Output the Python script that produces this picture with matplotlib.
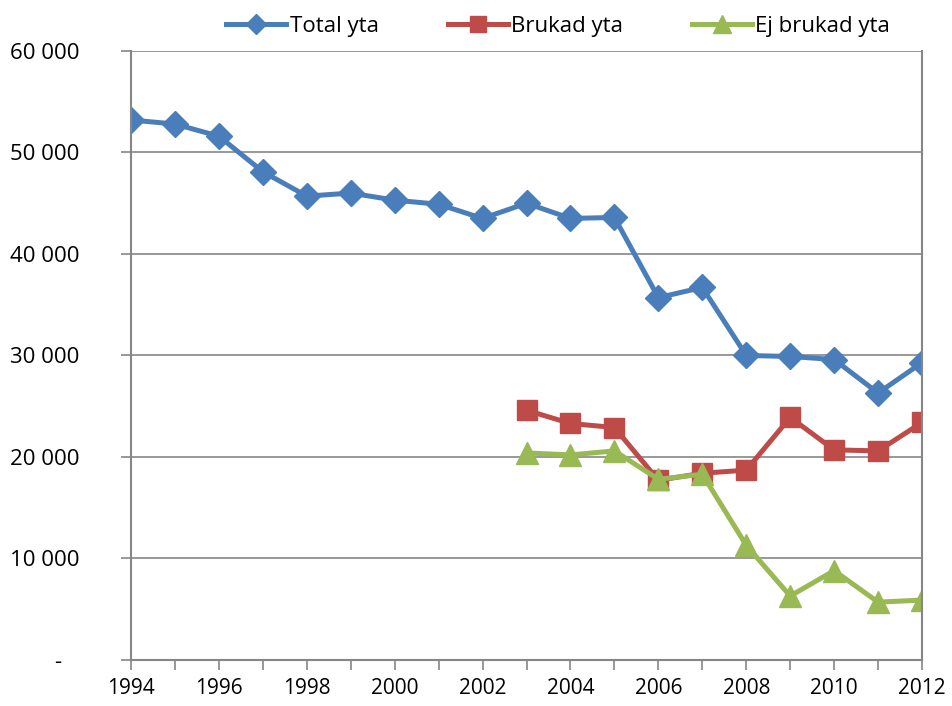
import matplotlib
matplotlib.use("Agg")
import matplotlib.pyplot as plt
from matplotlib.ticker import FuncFormatter

plt.rcParams['font.family'] = ['Open Sans', 'DejaVu Sans']

years = list(range(1994, 2013))
total_yta = [53200, 52800, 51600, 48100, 45700, 46000, 45300, 44900, 43500,
             45000, 43500, 43600, 35700, 36700, 30000, 29900, 29600, 26300, 29300]
years_sub = list(range(2003, 2013))
brukad_yta = [24600, 23300, 22900, 17700, 18400, 18700, 23900, 20700, 20600, 23400]
ej_brukad_yta = [20400, 20200, 20600, 17800, 18300, 11300, 6300, 8800, 5700, 5900]

fig = plt.figure(figsize=(9.53, 7.06), dpi=100)
ax = fig.add_axes([0.1375, 0.0652, 0.83, 0.8626])

ax.plot(years, total_yta, color='#4A7EBB', lw=3.6, marker='D', ms=13,
        label='Total yta')
ax.plot(years_sub, brukad_yta, color='#BE4B48', lw=3.6, marker='s', ms=15,
        label='Brukad yta')
ax.plot(years_sub, ej_brukad_yta, color='#98B954', lw=3.6, marker='^', ms=16,
        label='Ej brukad yta')

ax.set_xlim(1994, 2012)
ax.set_ylim(0, 60000)
ax.set_yticks(range(0, 60001, 10000))
ax.set_xticks(years)
ax.set_xticklabels([str(y) if y % 2 == 0 else '' for y in years])


def fmt(v, pos):
    if v == 0:
        return '-   '
    return f'{int(v):,}'.replace(',', ' ')


ax.yaxis.set_major_formatter(FuncFormatter(fmt))
ax.grid(axis='y', color='#868686', lw=1.2)
ax.set_axisbelow(True)
for side in ['left', 'bottom', 'right']:
    ax.spines[side].set_color('#868686')
    ax.spines[side].set_linewidth(1.5)
ax.spines['top'].set_visible(False)
ax.tick_params(axis='both', colors='#868686', labelcolor='black',
               labelsize=15, length=7, width=1.2)
ax.tick_params(axis='y', pad=30, labelsize=16)
ax.tick_params(axis='x', pad=6)

ax.legend(loc='lower center', bbox_to_anchor=(0.54, 0.99), ncol=3,
          frameon=False, fontsize=16, handlelength=2.7, columnspacing=3.1,
          handletextpad=0.15, markerscale=0.8)

fig.savefig('out.png', dpi=100)
